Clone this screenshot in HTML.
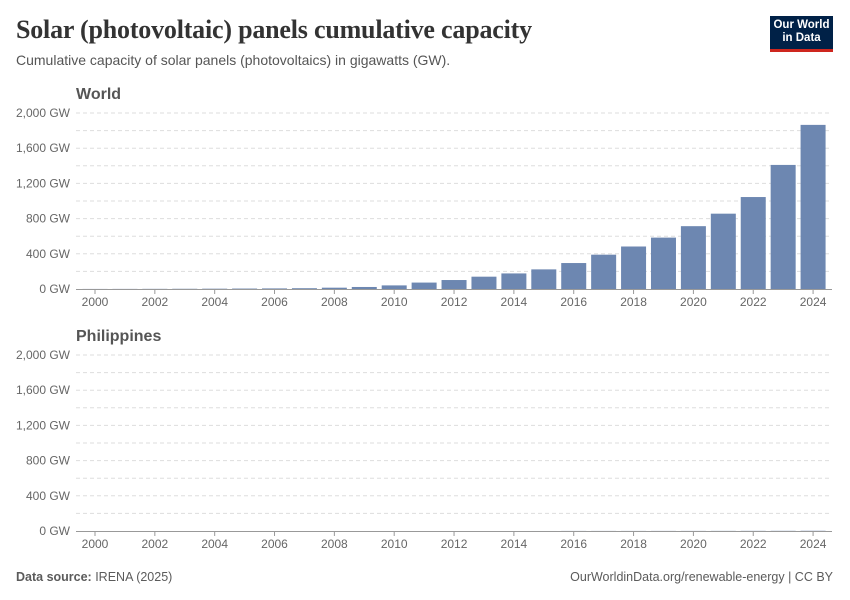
<!DOCTYPE html>
<html><head><meta charset="utf-8"><style>
body{margin:0;background:#fff;font-family:"Liberation Sans",sans-serif;}
#wrap{position:relative;width:850px;height:600px;overflow:hidden}
h1{position:absolute;left:16px;top:15px;margin:0;font-family:"Liberation Serif",serif;font-weight:bold;font-size:26px;color:#333;letter-spacing:-0.2px}
.sub{position:absolute;left:16px;top:52px;font-size:14px;color:#555}
.logo{position:absolute;left:770px;top:16px;width:63px;height:36px;background:#002147;color:#fff;font-size:11.5px;line-height:13px;text-align:center;padding-top:3px;box-sizing:border-box;border-bottom:3px solid #ce261e;font-weight:bold}
.foot{position:absolute;top:570px;font-size:12.5px;color:#5b5b5b}
svg text{font-family:"Liberation Sans",sans-serif}
</style></head><body><div id="wrap">
<h1>Solar (photovoltaic) panels cumulative capacity</h1>
<div class="sub">Cumulative capacity of solar panels (photovoltaics) in gigawatts (GW).</div>
<div class="logo">Our World<br>in Data</div>
<svg id="svg" width="850" height="600" style="position:absolute;left:0;top:0"></svg>
<div class="foot" style="left:16px"><b>Data source:</b> IRENA (2025)</div>
<div class="foot" style="right:17px">OurWorldinData.org/renewable-energy | CC BY</div>
</div>
<script>
const years=[2000,2001,2002,2003,2004,2005,2006,2007,2008,2009,2010,2011,2012,2013,2014,2015,2016,2017,2018,2019,2020,2021,2022,2023,2024];
const worldValues=[0.8,1.2,1.8,2.6,3.7,5.1,6.7,9,15,23,41,73,102,140,177,223,295,390,483,584,714,856,1045,1410,1865];
const philippinesValues=[0,0,0,0,0,0,0,0,0,0,0,0,0,0,0.03,0.17,0.9,0.9,0.9,1.0,1.05,1.3,1.6,1.9,2.5];
const yTicks=[0,400,800,1200,1600,2000];
const xTickYears=[2000,2002,2004,2006,2008,2010,2012,2014,2016,2018,2020,2022,2024];
const NS="http://www.w3.org/2000/svg";
const svg=document.getElementById('svg');
function mk(t,a){const e=document.createElementNS(NS,t);for(const k in a)e.setAttribute(k,a[k]);svg.appendChild(e);return e;}
const x=y=>95+(y-2000)*29.92;
function panel(name,vals,top,label){
  const bottom=top+176;
  const yS=v=>bottom-v/2000*176;
  const t=mk('text',{x:76,y:top-14,'font-size':16,'font-weight':'bold',fill:'#555'});t.textContent=label;
  
  
  for(let v=200;v<=2000;v+=200){
    const l=mk('line',{x1:76,x2:832,y1:yS(v),y2:yS(v),stroke:'#ddd','stroke-dasharray':'4,3'});
    
    
  }
  yTicks.forEach(v=>{
    const tx=mk('text',{x:70,y:yS(v)+4,'text-anchor':'end','font-size':12,fill:'#666'});
    tx.textContent=v.toLocaleString('en-US')+' GW';
    
    
  });
  vals.forEach((v,i)=>{
    const h=v/2000*176;
    const r=mk('rect',{x:x(years[i])-12.5,y:bottom-h,width:25,height:h,fill:'#6d87b1'});
    
    
  });
  const ax=mk('line',{x1:76,x2:832,y1:bottom+0.5,y2:bottom+0.5,stroke:'#999'});
  
  
  xTickYears.forEach(yr=>{
    const tk=mk('line',{x1:x(yr),x2:x(yr),y1:bottom,y2:bottom+5,stroke:'#999'});
    
    
    const tx=mk('text',{x:x(yr),y:bottom+17,'text-anchor':'middle','font-size':12,fill:'#666'});
    tx.textContent=yr;
    
    
  });
}
panel('world',worldValues,113,'World');
panel('philippines',philippinesValues,355,'Philippines');
</script></body></html>
